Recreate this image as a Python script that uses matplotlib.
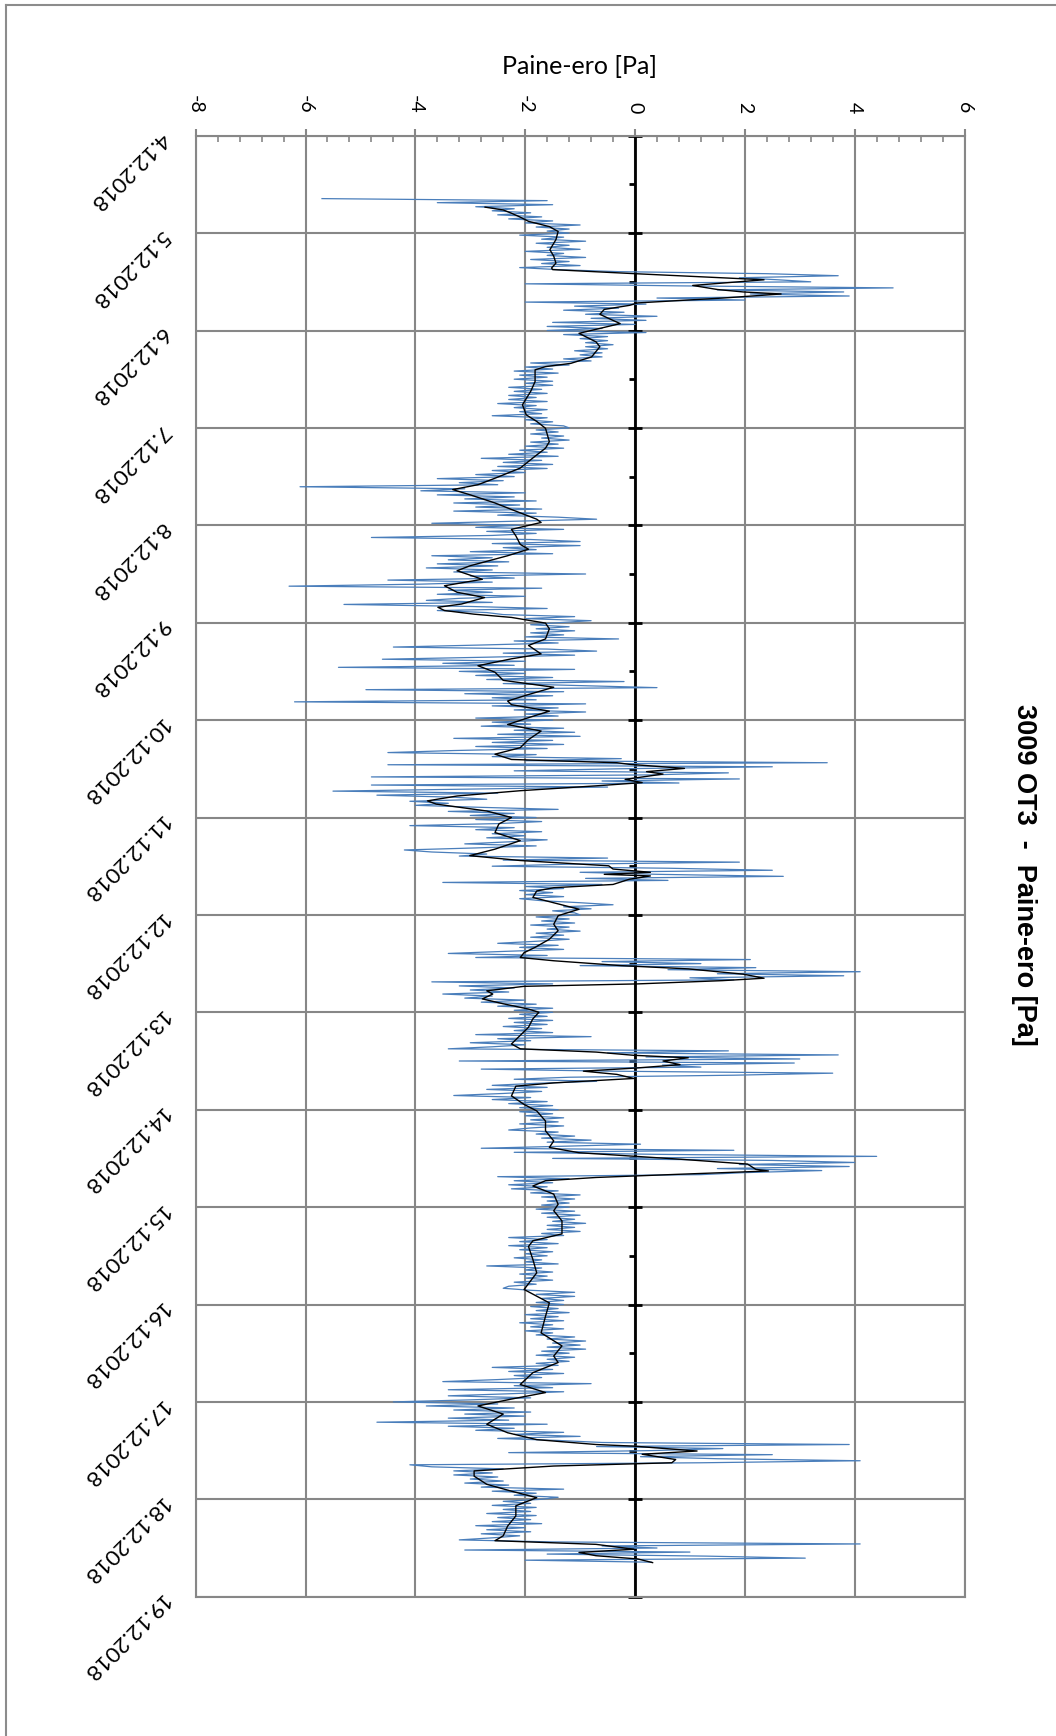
import numpy as np
import matplotlib
matplotlib.use("Agg")
import matplotlib.pyplot as plt
from matplotlib.lines import Line2D
from matplotlib.ticker import MultipleLocator

# Chart is drawn turned a quarter: value axis runs across, time runs downwards.
date_labels = ["4.12.2018", "5.12.2018", "6.12.2018", "7.12.2018", "8.12.2018",
               "9.12.2018", "10.12.2018", "11.12.2018", "12.12.2018", "13.12.2018",
               "14.12.2018", "15.12.2018", "16.12.2018", "17.12.2018", "18.12.2018",
               "19.12.2018"]
value_ticks = [-8, -6, -4, -2, 0, 2, 4, 6]

# raw readings (Pa), every 30 min from 4.12. 15:30
blue_start_h = 15.5
blue_step_h = 0.5
blue_d04 = [-5.7, -1.6, -3.6, -1.5, -2.9, -2.2, -2.6, -1.9, -2.5, -1.7, -2.3, -1.5, -2.0, -1.0, -1.8, -1.2, -1.6]
blue_d05 = [-1.2, -2.1, -1.3, -1.7, -0.9, -1.8, -1.2, -1.6, -1.0, -2.0, -1.3, -1.6, -0.9, -1.9, -1.2, -1.7,
            -1.0, -2.1, -1.4, -0.3, 2.4, 3.7, 1.9, 2.6, 3.2, -2.0, 0.8, 4.7, 1.5, 3.8, 2.1, 3.9,
            0.4, 2.0, -2.0, 0.2, -1.1, -0.3, -1.3, -0.2, -0.9, 0.4, -0.8, 0.2, -1.5, 0.0, -1.6, -0.6]
blue_d06 = [-1.6, 0.2, -1.3, -0.5, -1.0, -0.5, -0.9, -0.4, -0.9, -0.5, -1.1, -0.6, -1.0, -0.6, -1.3, -0.8,
            -1.9, -1.2, -2.0, -1.5, -2.2, -1.4, -2.1, -1.6, -2.2, -1.5, -2.0, -1.5, -2.3, -1.7, -2.2, -1.6,
            -2.3, -1.8, -2.3, -1.6, -2.5, -1.8, -2.2, -1.6, -2.1, -1.7, -2.6, -1.6, -2.0, -1.5, -1.9, -1.3]
blue_d07 = [-1.2, -1.8, -1.4, -1.9, -1.3, -1.7, -1.2, -1.9, -1.4, -2.0, -1.3, -2.1, -1.6, -2.3, -1.4, -2.8,
            -1.7, -2.4, -1.5, -2.5, -1.6, -2.6, -2.0, -2.9, -2.2, -3.6, -2.4, -3.2, -2.5, -6.1, -3.1, -3.9,
            -2.0, -3.6, -2.2, -3.1, -1.8, -3.3, -2.1, -2.9, -1.7, -3.3, -1.8, -2.5, -1.4, -0.7, -2.2, -3.7]
blue_d08 = [-2.1, -2.9, -1.3, -2.7, -1.8, -2.6, -4.8, -1.9, -1.0, -2.6, -1.0, -2.4, -1.8, -3.0, -1.5, -3.7,
            -2.6, -3.4, -2.3, -3.6, -2.5, -3.8, -2.6, -3.3, -0.9, -3.0, -2.2, -4.5, -2.6, -3.9, -6.3, -1.7,
            -3.4, -2.6, -3.6, -2.0, -3.2, -3.8, -2.6, -5.3, -3.0, -1.6, -3.6, -2.7, -2.4, -1.1, -2.0, -0.8]
blue_d09 = [-1.4, -1.9, -1.2, -1.8, -1.1, -1.9, -1.3, -2.0, -0.3, -2.2, -1.4, -2.8, -4.4, -1.6, -0.7, -2.4,
            -1.1, -2.7, -4.6, -2.0, -3.5, -2.2, -5.4, -1.1, -3.2, -2.0, -2.9, -1.5, -2.7, -0.2, -2.4, -1.0,
            0.4, -4.9, -1.3, -3.1, -1.5, -2.6, -1.8, -6.2, -0.9, -2.6, -1.4, -2.2, -0.9, -2.0, -1.4, -2.9]
blue_d10 = [-1.5, -2.6, -1.9, -2.8, -1.3, -2.2, -1.1, -2.5, -1.0, -3.3, -1.5, -2.6, -1.3, -2.9, -1.6, -3.3,
            -4.5, -1.8, -2.6, -0.25, -2.0, 3.5, -4.5, 2.5, -0.3, -2.2, 1.7, 0.3, -4.8, 1.9, -0.6, 0.8,
            -4.8, -0.5, -3.0, -5.5, -2.5, -4.7, -3.3, -2.7, -4.1, -3.4, -4.0, -2.8, -1.4, -3.4, -2.2, -3.0]
blue_d11 = [-1.8, -2.9, -1.7, -2.5, -4.1, -2.2, -2.9, -1.7, -2.6, -2.0, -2.7, -1.6, -2.3, -3.1, -1.8, -2.9,
            -4.2, -3.7, -2.7, -3.2, -0.5, -2.4, 1.9, -1.2, -2.6, 0.6, 2.5, -1.0, 0.4, 2.7, -0.9, 0.6,
            -3.5, -0.6, -2.0, -1.3, -2.1, -1.5, -2.0, -1.3, -2.1, -1.7, -1.0, -0.4, -1.3, -0.8, -1.5, -1.1]
blue_d12 = [-1.0, -1.8, -1.2, -1.7, -1.1, -1.9, -1.2, -1.6, -1.0, -1.8, -1.3, -1.9, -1.2, -1.8, -2.5, -1.4,
            -2.1, -1.3, -2.4, -3.4, -1.6, -2.9, 2.1, -0.6, 1.2, -1.0, 2.2, 0.6, 4.1, 1.5, 3.8, 1.0,
            1.8, -3.7, -1.5, -3.2, -2.2, -3.0, -2.3, -3.5, -2.6, -3.1, -2.0, -2.8, -1.8, -2.5, -1.5, -2.2]
blue_d13 = [-1.5, -2.1, -1.6, -2.3, -1.5, -2.2, -1.6, -2.4, -1.7, -2.2, -1.5, -2.9, -0.8, -2.5, -1.9, -3.0,
            -2.0, -2.6, -3.4, 1.7, -0.5, 3.7, 0.2, 3.0, -3.2, 2.9, 0.5, 1.2, -2.8, -0.5, 3.6, 1.8,
            -1.2, -2.2, -0.7, -1.8, -2.6, -1.6, -2.7, -1.7, -2.4, -3.3, -1.9, -2.6, -1.6, -2.3, -1.5, -2.1]
blue_d14 = [-1.4, -2.1, -1.5, -2.0, -1.3, -1.9, -1.4, -2.1, -1.3, -1.9, -2.3, -1.4, -1.8, -1.1, -1.7, -0.8,
            -1.6, 0.1, -1.3, -2.8, 1.8, -2.2, 0.4, 4.4, -1.5, 2.5, 4.0, 1.9, 3.9, 1.5, 3.4, 2.0,
            1.2, -2.5, -1.2, -2.2, -1.5, -2.3, -1.6, -2.25, -1.4, -1.9, -1.0, -1.7, -1.1, -1.6, -1.2, -1.7]
blue_d15 = [-1.2, -1.8, -1.1, -1.7, -1.0, -1.6, -1.1, -1.5, -0.9, -1.6, -1.1, -1.6, -1.0, -1.7, -1.3, -2.3,
            -1.6, -2.1, -1.4, -2.3, -1.6, -2.1, -1.5, -2.0, -1.6, -2.2, -1.7, -2.0, -1.4, -2.7, -1.7, -2.0,
            -1.5, -2.1, -1.6, -2.0, -1.5, -2.2, -1.8, -2.3, -2.4, -1.9, -1.1, -1.8, -1.1, -1.7, -1.3, -1.8]
blue_d16 = [-1.3, -1.9, -1.4, -1.8, -1.2, -2.0, -1.4, -1.9, -1.3, -2.1, -1.5, -1.9, -1.3, -2.0, -1.5, -1.8,
            -1.1, -1.6, -0.9, -1.5, -1.0, -1.6, -0.9, -1.7, -1.2, -1.8, -1.1, -1.6, -1.2, -1.8, -1.4, -2.6,
            -1.5, -2.3, -1.3, -2.2, -1.7, -2.5, -3.5, -0.8, -2.2, -1.5, -3.4, -1.3, -2.3, -3.4, -1.9, -3.0]
blue_d17 = [-4.4, -2.5, -3.8, -2.2, -3.3, -1.9, -3.1, -2.0, -3.4, -2.3, -4.7, -1.6, -3.4, -2.2, -2.9, -1.3,
            -2.2, -1.0, -2.5, -1.4, -0.6, 3.9, -0.7, 1.6, 0.3, -2.3, 2.5, 0.1, 1.5, 4.1, 1.2, -4.1,
            -3.7, -2.4, -3.3, -2.6, -3.3, -2.5, -3.0, -2.4, -3.1, -2.3, -2.8, -1.3, -2.6, -1.8, -2.2, -1.4]
blue_d18 = [-1.7, -2.4, -1.9, -2.6, -1.8, -2.4, -1.9, -2.7, -1.8, -2.5, -1.9, -2.6, -1.7, -2.9, -2.0, -2.7,
            -1.9, -2.8, -2.1, -2.6, -3.2, -1.5, 4.1, -0.6, 0.4, -3.1, 1.0, -1.6, 1.3, 3.1, -2.0, 0.3]

blue_vals = (blue_d04 + blue_d05 + blue_d06 + blue_d07 + blue_d08 + blue_d09 + blue_d10 + blue_d11
             + blue_d12 + blue_d13 + blue_d14 + blue_d15 + blue_d16 + blue_d17 + blue_d18)

# smoothed curve (hours from 4.12. 00:00, Pa)
black_hours = [17.6, 18.3, 19.1, 20.0, 21.1, 22.4, 23.6, 25.6, 28.1, 29.7, 31.4, 32.6, 33.0, 34.0, 35.5,
               36.9, 37.9, 38.5, 39.0, 40.0, 41.2, 41.8, 42.8, 44.0, 44.9, 46.3, 48.7, 50.8, 52.0, 54.5,
               56.1, 56.9, 57.7, 60.6, 63.0, 66.3, 68.8, 70.4, 72.1, 75.4, 77.0, 79.4, 81.9, 84.4, 86.0,
               87.2, 88.5, 90.5, 92.1, 94.5, 95.3, 97.0, 98.6, 100.7, 101.9, 103.5, 106.0, 107.2, 109.3,
               110.9, 112.5, 113.8, 115.4, 116.2, 117.0, 117.9, 118.7, 120.1, 121.5, 124.0, 125.6, 127.7,
               128.9, 130.6, 132.2, 134.2, 135.9, 137.7, 139.3, 140.2, 141.8, 143.4, 145.1, 146.7, 148.8,
               150.8, 152.4, 153.7, 154.5, 154.9, 155.9, 156.7, 157.3, 158.6, 159.4, 160.2, 161.4, 162.7,
               163.9, 164.7, 166.4, 168.0, 169.6, 171.7, 173.7, 175.8, 177.4, 178.6, 179.9, 180.7, 181.5,
               182.0, 182.4, 183.2, 184.5, 185.3, 186.1, 187.7, 189.0, 190.6, 192.2, 194.3, 195.9, 198.0,
               200.0, 201.3, 202.5, 203.3, 204.5, 205.3, 206.6, 207.6, 208.2, 209.0, 209.6, 210.7, 211.5,
               212.7, 213.9, 215.2, 216.0, 217.6, 219.7, 221.7, 223.8, 225.0, 225.8, 226.6, 227.2, 228.0,
               228.9, 229.7, 230.5, 231.3, 232.3, 233.4, 234.2, 236.6, 238.7, 240.3, 242.8, 245.2, 247.7,
               249.3, 250.6, 251.4, 252.2, 253.4, 254.7, 255.1, 255.9, 256.7, 257.5, 258.8, 260.8, 263.3,
               264.9, 267.4, 270.6, 272.3, 273.7, 276.9, 280.2, 284.3, 287.6, 290.9, 295.0, 298.2, 300.7,
               302.3, 304.8, 307.7, 309.7, 311.3, 313.0, 315.0, 317.5, 319.6, 321.3, 322.5, 322.9, 324.1,
               324.9, 326.2, 327.0, 327.8, 329.0, 330.3, 332.3, 334.0, 335.6, 337.6, 340.1, 342.6, 345.0,
               346.2, 347.1, 348.3, 349.1, 349.9, 350.7, 351.6]
black_vals = [-2.73, -2.4, -2.25, -2.1, -1.94, -1.56, -1.4, -1.44, -1.55, -1.48, -1.44, -1.52, -1.5, 0.0, 2.35,
              1.05, 1.5, 1.97, 2.66, 1.6, 0.05, -0.1, -0.56, -0.64, -0.5, -0.27, -1.02, -0.71, -0.64, -0.79,
              -1.17, -1.63, -1.82, -1.82, -1.9, -2.05, -1.98, -1.79, -1.63, -1.56, -1.63, -1.86, -2.09, -2.55, -2.86,
              -3.32, -3.0, -2.55, -2.25, -1.79, -1.71, -2.25, -2.17, -2.09, -1.94, -2.32, -3.01, -3.24, -2.78,
              -3.47, -3.24, -2.74, -3.16, -3.59, -3.47, -2.93, -2.25, -1.63, -1.56, -1.63, -1.94, -1.71,
              -2.25, -2.86, -2.55, -2.4, -1.48, -1.94, -2.32, -2.25, -1.56, -1.94, -2.32, -1.71, -1.94,
              -2.09, -2.55, -2.25, -0.33, -0.1, 0.9, 0.21, 0.51, -0.18, 0.13, -0.71, -2.09, -3.24,
              -3.78, -3.62, -2.7, -2.25, -2.48, -2.55, -2.09, -2.55, -3.01, -2.09, -0.48, -0.4, 0.28,
              -0.56, 0.28, -0.1, -0.4, -1.48, -1.79, -1.86, -1.48, -1.02, -1.4, -1.48, -1.4, -1.56,
              -1.82, -2.02, -2.09, -1.48, -0.25, 0.97, 1.97, 2.35, 1.59, 0.05, -2.02, -2.7, -2.59,
              -2.78, -2.4, -1.94, -1.75, -1.86, -1.94, -2.09, -2.25, -2.09, -0.71, -0.02, 0.97, 0.51,
              0.82, 0.05, -0.94, -0.33, -0.02, -1.48, -2.17, -2.25, -2.02, -1.79, -1.63, -1.63, -1.48,
              -1.56, -1.02, -0.1, 0.82, 2.05, 2.2, 2.43, 0.82, -0.71, -1.63, -1.86, -1.48, -1.4,
              -1.48, -1.33, -1.33, -1.86, -1.94, -1.86, -1.79, -2.02, -1.56, -1.63, -1.71, -1.33, -1.48,
              -1.4, -1.86, -2.09, -1.63, -2.25, -2.86, -2.4, -2.7, -2.32, -1.79, -0.71, -0.02, 1.13,
              0.13, 0.74, 0.67, -1.48, -2.93, -2.93, -2.7, -2.25, -1.79, -2.17, -2.17, -2.32, -2.4,
              -2.55, -0.71, -0.02, -1.02, -0.71, 0.05, 0.32]

grid_c = "#878787"
blue_c = "#4a7ebb"

plt.rcParams["font.family"] = ["Lato", "DejaVu Sans"]
plt.rcParams["axes.unicode_minus"] = False

W, H = 1056, 1736
fig = plt.figure(figsize=(W / 100, H / 100), dpi=100)
ax = fig.add_axes([195.7 / W, 1 - 1596.7 / H, (964.5 - 195.7) / W, (1596.7 - 135.7) / H])

blue_t = (blue_start_h + blue_step_h * np.arange(len(blue_vals))) / 24.0
black_t = np.array(black_hours) / 24.0
n_days = len(date_labels)

ax.set_xlim(value_ticks[0], value_ticks[-1])
ax.set_ylim(n_days - 1, 0)

# grid + frame
ax.set_axisbelow(True)
ax.grid(True, which="major", color=grid_c, linewidth=1.5)
for sp in ax.spines.values():
    sp.set_color(grid_c)
    sp.set_linewidth(1.5)

# value axis on top, labels turned
ax.xaxis.tick_top()
ax.set_xticks(value_ticks)
ax.set_xticklabels([str(v) for v in value_ticks], rotation=-90, fontsize=14)
ax.xaxis.set_minor_locator(MultipleLocator(0.4))
ax.tick_params(axis="x", which="major", direction="out", length=5, width=1.5, color=grid_c, pad=11)
ax.tick_params(axis="x", which="minor", direction="in", length=4.5, width=1.2, color=grid_c,
               top=True, bottom=False)

# date axis on the left, labels upside down at 45 deg
ax.set_yticks(np.arange(n_days))
ax.set_yticklabels(date_labels, rotation=225, rotation_mode="anchor", ha="left", va="center", fontsize=16)
ax.tick_params(axis="y", which="major", length=0, pad=22)

# zero (category) axis with its ticks
ax.axvline(0, color="black", linewidth=2, zorder=1.5)
ax.plot(np.zeros(n_days), np.arange(n_days), ls="none", marker="_", ms=10, mew=2,
        color="black", clip_on=False, zorder=1.6)
ax.plot(np.zeros(n_days - 1), np.arange(n_days - 1) + 0.5, ls="none", marker=0, ms=4, mew=2,
        color="black", zorder=1.6)

# series
ax.plot(blue_vals, blue_t, color=blue_c, linewidth=0.9, zorder=2)
ax.plot(black_vals, black_t, color="black", linewidth=1.0, zorder=3)

fig.text(580 / W, 1 - 66 / H, "Paine-ero [Pa]", ha="center", va="center", fontsize=18)
fig.text(1024 / W, 1 - 875 / H, "3009 OT3  -  Paine-ero [Pa]", rotation=-90, ha="center", va="center",
         fontsize=19.5, fontweight="bold", family="Liberation Sans")

# outer frame (left and top edges visible)
fig.add_artist(Line2D([5.5 / W, 5.5 / W], [0, 1 - 5 / H], transform=fig.transFigure, color="#8c8c8c", lw=1.5))
fig.add_artist(Line2D([5.5 / W, 1], [1 - 5 / H, 1 - 5 / H], transform=fig.transFigure, color="#8c8c8c", lw=1.5))

fig.savefig("out.png", dpi=100)
plt.close(fig)
